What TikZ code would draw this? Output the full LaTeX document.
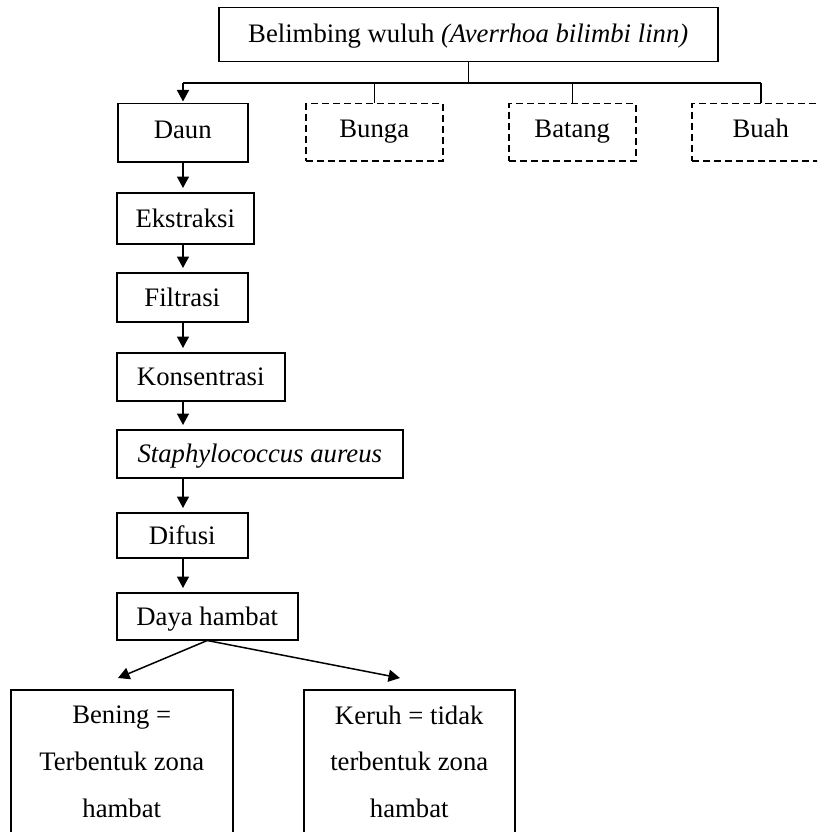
\documentclass[tikz,border=0pt]{standalone}
\usepackage{fontspec}
\setmainfont{Liberation Serif}
\usetikzlibrary{arrows.meta}
\begin{document}
\begin{tikzpicture}[x=1pt,y=-1pt,
  line width=1.5pt,
  every node/.style={font=\fontsize{26.7}{32}\selectfont},
  box/.style={draw, rectangle, inner sep=0pt, anchor=north west, text height=20pt, text depth=2pt},
  rowbox/.style={box, text height=17pt, text depth=6pt},
  dbox/.style={rowbox, dash pattern=on 7pt off 4pt},
  bigbox/.style={draw, rectangle, inner sep=0pt, anchor=north west, align=center, font=\fontsize{26.7}{46.7}\selectfont},
  arr/.style={-{Triangle[length=11.5pt,width=12pt]}},
  varr/.style={arr, shorten >=4pt}]
\useasboundingbox (0,0) rectangle (817,832);
\clip (0,0) rectangle (817,832);

\coordinate (col) at (183,0);
\coordinate (hl) at (0,83);
\coordinate (lt) at (118,678);
\coordinate (rt) at (400,678);

\node[box, minimum width=499pt, minimum height=54pt, text height=18pt, text depth=3pt] (top) at (218,7) {Belimbing wuluh \textit{(Averrhoa bilimbi linn)}};

\node[rowbox, minimum width=130pt, minimum height=58pt] (daun) at (117,103) {Daun};
\node[dbox, minimum width=137pt, minimum height=57pt] (bunga) at (305,103) {Bunga};
\node[dbox, minimum width=127pt, minimum height=57pt] (batang) at (508,103) {Batang};
\node[dbox, minimum width=138pt, minimum height=57pt] (buah) at (691,103) {Buah};

\node[box, minimum width=137pt, minimum height=51pt] (ekstraksi) at (116,192) {Ekstraksi};
\node[box, minimum width=131pt, minimum height=49pt] (filtrasi) at (116,272) {Filtrasi};
\node[box, minimum width=168pt, minimum height=48pt] (konsentrasi) at (116,352) {Konsentrasi};
\node[box, minimum width=286pt, minimum height=48pt] (staph) at (116,429) {\textit{Staphylococcus aureus}};
\node[box, minimum width=131pt, minimum height=45pt] (difusi) at (116,512) {Difusi};
\node[box, minimum width=181pt, minimum height=47pt] (daya) at (116,592) {Daya hambat};

\node[bigbox, minimum width=222pt, minimum height=144pt] (bening) at (10,689) {Bening =\\Terbentuk zona\\hambat};
\node[bigbox, minimum width=211pt, minimum height=144pt] (keruh) at (303,689) {Keruh = tidak\\terbentuk zona\\hambat};

% top tree
\draw (top.south) -- (top.south |- hl);
\draw (col |- hl) -- (buah.north |- hl);
\draw (bunga.north) -- (bunga.north |- hl);
\draw (batang.north) -- (batang.north |- hl);
\draw (buah.north) -- (buah.north |- hl);
\draw[arr, shorten >=1.5pt] (col |- hl) -- (daun.north -| col);

% column
\draw[varr] (daun.south -| col) -- (ekstraksi.north -| col);
\draw[varr] (ekstraksi.south -| col) -- (filtrasi.north -| col);
\draw[varr] (filtrasi.south -| col) -- (konsentrasi.north -| col);
\draw[varr] (konsentrasi.south -| col) -- (staph.north -| col);
\draw[varr] (staph.south -| col) -- (difusi.north -| col);
\draw[varr] (difusi.south -| col) -- (daya.north -| col);

% fork
\draw[arr] (daya.south) -- (lt);
\draw[arr] (daya.south) -- (rt);
\end{tikzpicture}
\end{document}
